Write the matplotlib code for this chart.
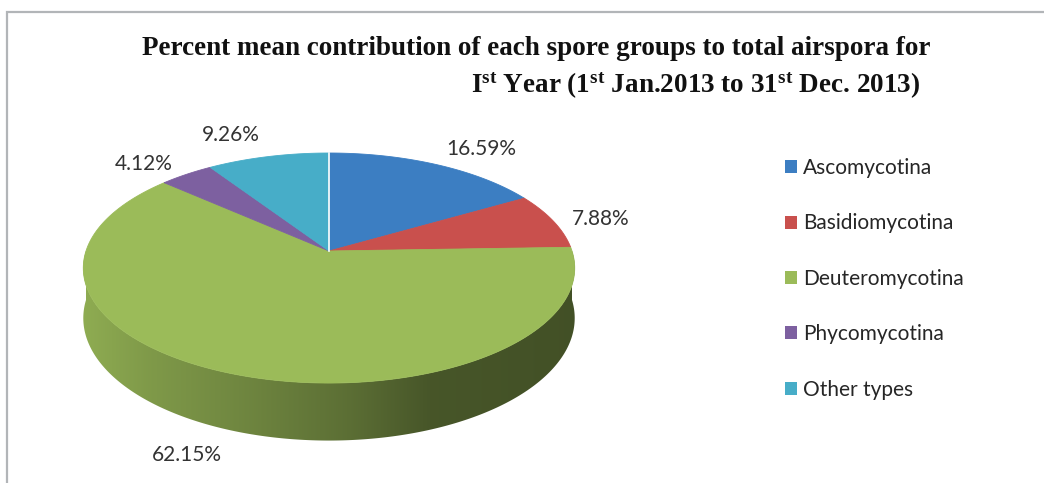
import numpy as np
import matplotlib
matplotlib.use("Agg")
import matplotlib.pyplot as plt
from matplotlib.patches import Polygon, Rectangle, Patch

# ---------------- data ----------------
categories = ["Ascomycotina", "Basidiomycotina", "Deuteromycotina",
              "Phycomycotina", "Other types"]
percent = [16.59, 7.88, 62.15, 4.12, 9.26]
colors = ["#3C7EC2", "#C9504D", "#9BBB59", "#7D60A0", "#47ADC8"]

title_line1 = "Percent mean contribution of each spore groups to total airspora for"
title_line2 = (r"I$^{\mathrm{st}}$ Year (1$^{\mathrm{st}}$ Jan.2013 to "
               r"31$^{\mathrm{st}}$ Dec. 2013)")

# ---------------- style / layout ----------------
W, H = 1044, 483
plt.rcParams["mathtext.fontset"] = "custom"
plt.rcParams["mathtext.rm"] = "Liberation Serif:bold"
plt.rcParams["mathtext.it"] = "Liberation Serif:bold"
plt.rcParams["mathtext.bf"] = "Liberation Serif:bold"
SANS = ["Lato", "DejaVu Sans"]

fig = plt.figure(figsize=(W / 100, H / 100), dpi=100)
ax = fig.add_axes([0, 0, 1, 1])

# perspective pie geometry (pixel space)
CX, CY = 329, 251
RX, RY, P, DEPTH = 243, 112.5, 0.148, 49


def proj(theta, r=1.0, z=0.0):
    """theta: clockwise angle from 12 o'clock (rad)."""
    u = r * np.sin(theta)
    v = r * np.cos(theta)
    s = 1 + P * v
    return CX + RX * u / s, CY - (RY * v + DEPTH * z) / s


fractions = np.array(percent) / np.sum(percent)
edges = np.concatenate([[0.0], np.cumsum(fractions)]) * 2 * np.pi

# side shading stops (x position in pixels -> brightness factor)
shade_x = [83, 150, 250, 350, 430, 575]
shade_f = [0.92, 0.82, 0.71, 0.59, 0.46, 0.43]

# ---- side walls (front half only) ----
for i, c in enumerate(colors):
    a = max(edges[i], np.pi / 2)
    b = min(edges[i + 1], 3 * np.pi / 2)
    if b <= a:
        continue
    t = np.linspace(a, b, 300)
    tx, ty = proj(t)
    bx, by = proj(t[::-1], z=-1)
    verts = np.column_stack([np.concatenate([tx, bx]), np.concatenate([ty, by])])
    poly = Polygon(verts, closed=True, facecolor="none", edgecolor="none",
                   transform=ax.transData)
    ax.add_patch(poly)
    x0, x1 = verts[:, 0].min() - 2, verts[:, 0].max() + 2
    y0, y1 = verts[:, 1].min() - 2, verts[:, 1].max() + 2
    xs = np.linspace(x0, x1, 400)
    f = np.interp(xs, shade_x, shade_f)
    base = np.array(matplotlib.colors.to_rgb(c))
    img = np.clip(f[None, :, None] * base[None, None, :], 0, 1)
    im = ax.imshow(img, extent=(x0, x1, y1, y0), aspect="auto",
                   interpolation="bilinear", zorder=1)
    im.set_clip_path(poly)

# ---- top face ----
for i, c in enumerate(colors):
    t = np.linspace(edges[i], edges[i + 1], 300)
    ax_, ay_ = proj(t)
    px = np.concatenate([[CX], ax_])
    py = np.concatenate([[CY], ay_])
    ax.fill(px, py, facecolor=c, edgecolor=c, linewidth=0.6, zorder=2)

# white separator at 12 o'clock
sx, sy = proj(np.array([0.0]))
ax.plot([CX, sx[0]], [CY, sy[0]], color="white", lw=1.2, zorder=3)

# ---- data labels ----
label_pos = [(481, 149), (601, 219), (187, 455), (144, 164), (231, 135)]
for p, (lx, ly) in zip(percent, label_pos):
    ax.text(lx, ly, f"{p:.2f}%", ha="center", va="center", fontsize=15,
            family=SANS, color="#333333", zorder=4)

ax.set_xlim(0, W)
ax.set_ylim(H, 0)
ax.axis("off")

# ---- legend ----
handles = [Patch(facecolor=c, edgecolor="none") for c in colors]
leg = ax.legend(handles, categories, loc="upper left",
                bbox_to_anchor=(785 / W, 1 - 158 / H),
                bbox_transform=fig.transFigure, frameon=False,
                prop={"family": SANS, "size": 15}, labelcolor="#262626",
                handlelength=0.58, handleheight=0.58, handletextpad=0.3,
                labelspacing=1.70, borderpad=0, borderaxespad=0)

# ---- title ----
fig.text(536 / W, 1 - 55 / H, title_line1, ha="center", va="baseline",
         family="Liberation Serif", weight="bold", fontsize=19.5, color="#111111")
fig.text(920 / W, 1 - 93 / H, title_line2, ha="right", va="baseline",
         family="Liberation Serif", weight="bold", fontsize=19.5, color="#111111")

# ---- chart frame ----
fig.add_artist(Rectangle((7 / W, -0.2), 2.0, (1 - 12 / H) + 0.2,
                         transform=fig.transFigure, fill=False,
                         edgecolor="#B2B5B8", linewidth=1.6))

fig.savefig("out.png", dpi=100)
